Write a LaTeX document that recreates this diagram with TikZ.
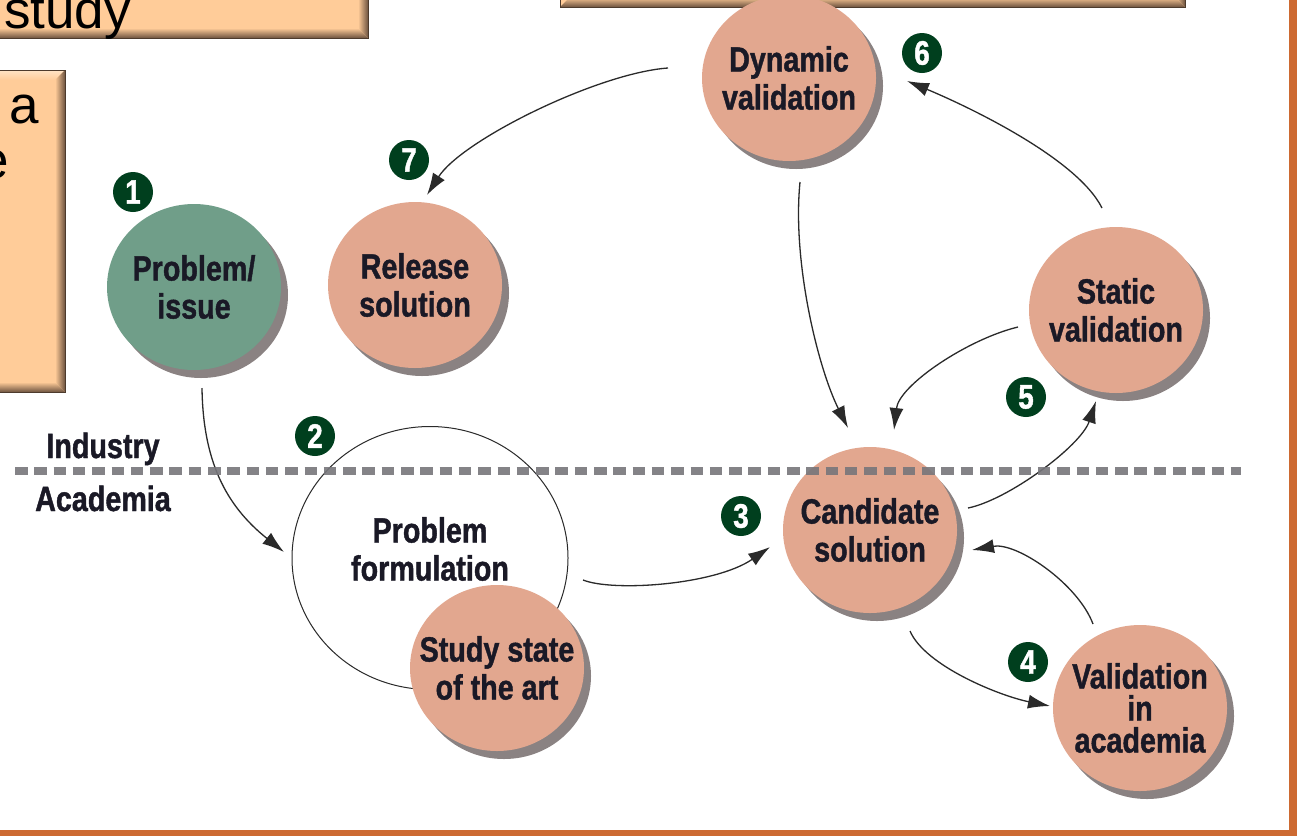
\documentclass[tikz,border=0pt]{standalone}
\usepackage{fontspec}
\setmainfont{Liberation Sans}
\newfontfamily\condfont[FakeStretch=0.82,FakeBold=1.2]{Liberation Sans}
\usetikzlibrary{arrows.meta,shapes.geometric,shadows,calc}

\definecolor{salmon}{HTML}{E2A78F}
\definecolor{sage}{HTML}{709E89}
\definecolor{shade}{HTML}{8A8282}
\definecolor{badgegreen}{HTML}{003F1E}
\definecolor{peach}{HTML}{FFCC99}
\definecolor{bevlight}{HTML}{FFE4C6}
\definecolor{bevdark}{HTML}{6E5440}
\definecolor{framec}{HTML}{CD6A32}
\definecolor{ink}{HTML}{1A1926}
\definecolor{dashgray}{HTML}{77767B}
\definecolor{arrowc}{HTML}{2A2A2A}

\newcommand\bubfont{\condfont\bfseries\fontsize{35}{38}\selectfont}
\newcommand\tightfont{\condfont\bfseries\fontsize{35}{32}\selectfont}
\newcommand\badgefont{\condfont\bfseries\fontsize{34}{34}\selectfont}
\newcommand\boxfont{\fontsize{53}{60}\selectfont}

% bevelled panel: x1 y1 x2 y2 (page coordinates, y downwards)
\newcommand\bevbox[4]{%
  \fill[peach] (#1,#2) rectangle (#3,#4);
  \shade[top color=bevlight, bottom color=peach]
    (#1,#2) -- (#3,#2) -- (#3-10,#2+10) -- (#1+10,#2+10) -- cycle;
  \shade[top color=peach, bottom color=bevdark]
    (#1,#4) -- (#3,#4) -- (#3-10,#4-10) -- (#1+10,#4-10) -- cycle;
  \shade[left color=peach, right color=bevdark]
    (#3,#2) -- (#3,#4) -- (#3-10,#4-10) -- (#3-10,#2+10) -- cycle;
  \draw[bevdark!70!black, line width=0.8pt] (#1,#2) rectangle (#3,#4);
}

\tikzset{
  bubble/.style={ellipse, minimum width=174pt, minimum height=166pt,
    inner sep=0pt, fill=salmon,
    drop shadow={shadow xshift=7pt, shadow yshift=-8pt, fill=shade, opacity=1}},
  plain/.style={text=ink, align=center, font=\bubfont, inner sep=0pt},
  badge/.style={circle, fill=badgegreen, minimum size=40pt, inner sep=0pt,
    text=white, font=\badgefont},
  arr/.style={draw=arrowc, line width=1.3pt, -{Latex[length=22pt,width=14pt]}},
  ring/.style={ellipse, draw=arrowc, line width=1pt, minimum width=276pt,
    minimum height=263pt, inner sep=0pt},
  divider/.style={dashgray, opacity=0.9, line width=8pt,
    dash pattern=on 12.5pt off 6.8pt},
}

\begin{document}
\begin{tikzpicture}[x=1pt,y=-1pt]
\useasboundingbox (0,0) rectangle (1297,836);
\fill[white] (0,0) rectangle (1297,836);

% panels at the edges
\bevbox{-20}{-20}{368}{38}
\bevbox{-20}{70}{65}{392}
\bevbox{560}{-20}{1185}{7}
\node[anchor=base west, inner sep=0pt, font=\boxfont] (t1) at (4,28) {study};
\node[anchor=base east, inner sep=0pt, font=\boxfont] (t2) at (39,123) {a};
\node[anchor=base east, inner sep=0pt, font=\boxfont] (t3) at (9,178) {e};

% frame
\fill[framec] (1289,0) rectangle (1297,836);
\fill[framec] (0,830) rectangle (1297,836);

% process bubbles
\node[ring] (pf) at (430,558) {};
\node[plain] (pftxt) at (430,549) {Problem\\formulation};
\node[bubble, fill=sage, label={[plain]center:{Problem/\\issue}}] (pi) at (194,287) {};
\node[bubble, label={[plain]center:{Release\\solution}}] (rel) at (415,285) {};
\node[bubble, label={[plain]center:{Dynamic\\validation}}] (dyn) at (789,78) {};
\node[bubble, label={[plain]center:{Static\\validation}}] (stat) at (1116,310) {};
\node[bubble, label={[plain]center:{Candidate\\solution}}] (cand) at (870,530) {};
\node[bubble, label={[plain,font=\tightfont]center:{Validation\\in\\academia}}] (val) at (1140,708) {};
\node[bubble, label={[plain]center:{Study state\\of the art}}] (sota) at (497,668) {};

% step numbers
\node[badge] (b1) at (133,192) {1};
\node[badge] (b2) at (315,436) {2};
\node[badge] (b3) at (741,516) {3};
\node[badge] (b4) at (1028,662) {4};
\node[badge] (b5) at (1026,397) {5};
\node[badge] (b6) at (922,53) {6};
\node[badge] (b7) at (409,160) {7};

% flow
\draw[arr] ($(pi)+(8,101)$) .. controls +(1,72) and +(-59,-47) .. ($(pf)+(-146,-6)$);
\draw[arr] ($(pf)+(153,22)$) .. controls +(30,12) and +(-55,38) .. ($(cand)+(-100,17)$);
\draw[arr] ($(cand)+(40,101)$) .. controls +(15,35) and +(-50,-10) .. ($(val)+(-90,-2)$);
\draw[arr] ($(val)+(-47,-84)$) .. controls +(-15,-40) and +(45,-8) .. ($(cand)+(102,20)$);
\draw[arr] ($(cand)+(98,-22)$) .. controls +(40,-8) and +(-15,45) .. ($(stat)+(-20,91)$);
\draw[arr] ($(stat)+(-98,17)$) .. controls +(-50,12) and +(5,-45) .. ($(cand)+(24,-100)$);
\draw[arr] ($(stat)+(-14,-102)$) .. controls +(-25,-50) and +(60,25) .. ($(dyn)+(118,3)$);
\draw[arr] ($(dyn)+(11,104)$) .. controls +(-8,80) and +(-30,-60) .. ($(cand)+(-22,-102)$);
\draw[arr] ($(dyn)+(-121,-10)$) .. controls +(-70,5) and +(35,-55) .. ($(rel)+(12,-90)$);

% industry / academia boundary
\coordinate (lineL) at (15,471);
\coordinate (lineR) at (1241,471);
\draw[divider] (lineL) -- (lineR);
\node[plain, anchor=base] (ind) at (103,458) {Industry};
\node[plain, anchor=base] (aca) at (103,511) {Academia};
\end{tikzpicture}
\end{document}
